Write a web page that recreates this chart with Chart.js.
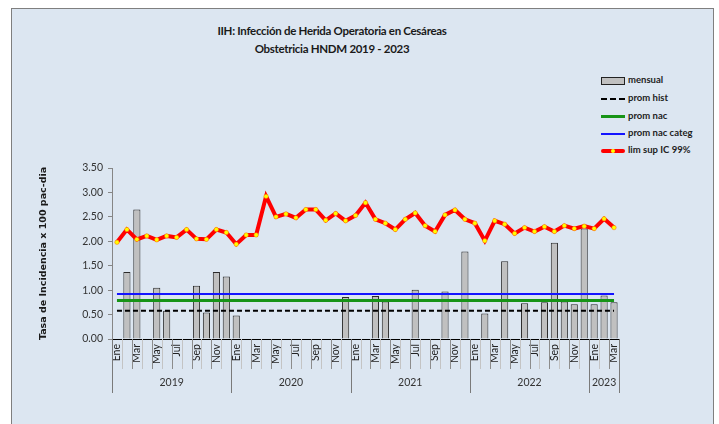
<!DOCTYPE html>
<html>
<head>
<meta charset="utf-8">
<script src="https://cdn.jsdelivr.net/npm/chart.js@4.4.1/dist/chart.umd.min.js"></script>
<style>
  html, body { margin: 0; padding: 0; background: #ffffff; }
  #wrap { position: relative; width: 719px; height: 424px; overflow: hidden; }
  #frame { position: absolute; left: 11px; top: 8px; width: 701px; height: 430px; background: #dce6f1; border: 1px solid #7f7f7f; }
  #chart { position: absolute; left: 0; top: 0; }
  .title { position: absolute; left: 0; width: 664px; text-align: center; font-family: Lato, "DejaVu Sans Condensed", sans-serif; font-weight: bold; font-size: 11.5px; letter-spacing: -0.3px; color: #1a1a1a; }
  .leg { position: absolute; left: 601px; height: 12px; font-family: Lato, "DejaVu Sans Condensed", sans-serif; font-weight: bold; font-size: 9.5px; color: #222; }
  .leg .sym { position: absolute; left: 0; top: 0; width: 24px; height: 12px; }
  .leg .txt { position: absolute; left: 27px; top: -1px; white-space: nowrap; }
</style>
</head>
<body>
<div id="wrap">
  <div id="frame"></div>
  <div class="title" style="top:24px">IIH: Infección de Herida Operatoria en Cesáreas</div>
  <div class="title" style="top:42px">Obstetricia HNDM 2019 - 2023</div>
  <div id="legend"></div>
  <canvas id="chart" width="719" height="424"></canvas>
</div>
<script>
// datos
var meses = ["Ene", "Feb", "Mar", "Abr", "May", "Jun", "Jul", "Ago", "Sep", "Oct", "Nov", "Dic"];
var anios = ["2019", "2020", "2021", "2022", "2023"];
var mesesPorAnio = [12, 12, 12, 12, 3];

var mensual = [
	null, 1.37, 2.65, null, 1.05, 0.58, null, null, 1.09, 0.54, 1.37, 1.28,
	0.48, null, null, null, null, null, null, null, null, null, null, 0.86,
	null, null, 0.88, 0.77, null, null, 1.01, null, null, 0.97, null, 1.79,
	null, 0.52, null, 1.59, null, 0.73, null, 0.75, 1.97, 0.77, 0.71, 2.26,
	0.71, 0.89, 0.75
];
var limSup = [
	1.98, 2.24, 2.04, 2.11, 2.03, 2.11, 2.08, 2.24, 2.05, 2.04, 2.24, 2.18,
	1.94, 2.13, 2.13, 2.92, 2.50, 2.56, 2.48, 2.65, 2.65, 2.43, 2.57, 2.42,
	2.53, 2.79, 2.45, 2.37, 2.24, 2.45, 2.58, 2.32, 2.20, 2.54, 2.64, 2.45,
	2.37, 2.01, 2.42, 2.35, 2.16, 2.28, 2.20, 2.30, 2.20, 2.32, 2.26, 2.31,
	2.26, 2.46, 2.28
];
var promHist = 0.58;
var promNac = 0.79;
var promNacCateg = 0.92;
var yTicks = [0, 0.5, 1, 1.5, 2, 2.5, 3, 3.5];

// etiquetas de categoria
var labels = [];
for (var a = 0; a < anios.length; a++) {
	for (var m = 0; m < mesesPorAnio[a]; m++) {
		labels.push(meses[m] + " " + anios[a]);
	}
}
function constante(v) {
	return labels.map(function () { return v; });
}

var fontNarrow = 'Lato, "DejaVu Sans Condensed", sans-serif';

// legend (html)
var legendItems = [
	{ text: "mensual", top: 75, sym: '<div style="position:absolute;left:0;top:2px;width:22px;height:6px;background:#c0c0c0;border:1px solid #222"></div>' },
	{ text: "prom hist", top: 93, sym: '<div style="position:absolute;left:0;top:5px;width:24px;border-top:2px dashed #000"></div>' },
	{ text: "prom nac", top: 111, sym: '<div style="position:absolute;left:0;top:4px;width:24px;height:3px;background:#179417"></div>' },
	{ text: "prom nac categ", top: 128, sym: '<div style="position:absolute;left:0;top:5px;width:24px;height:2px;background:#1414ff"></div>' },
	{ text: "lim sup IC 99%", top: 145, sym: '<div style="position:absolute;left:0;top:4px;width:24px;height:4px;background:#ff0000;border-radius:2px"></div><div style="position:absolute;left:10px;top:4px;width:4px;height:4px;background:#ffff00;border-radius:2px"></div>' }
];
var legendHtml = "";
for (var i = 0; i < legendItems.length; i++) {
	legendHtml += '<div class="leg" style="top:' + legendItems[i].top + 'px"><div class="sym">' + legendItems[i].sym + '</div><div class="txt">' + legendItems[i].text + '</div></div>';
}
document.getElementById("legend").innerHTML = legendHtml;

// separadores y etiquetas de anio debajo del eje x
var yearAxisPlugin = {
	id: "yearAxis",
	afterDraw: function (chart) {
		var ctx = chart.ctx;
		var x = chart.scales.x;
		var bottom = chart.chartArea.bottom;
		var slot = x.getPixelForValue(1) - x.getPixelForValue(0);
		var yearStarts = [0];
		for (var a = 0; a < mesesPorAnio.length; a++) {
			yearStarts.push(yearStarts[a] + mesesPorAnio[a]);
		}
		ctx.save();
		// month separators
		ctx.lineWidth = 1;
		for (var i = 0; i <= labels.length; i++) {
			var px = Math.round(x.getPixelForValue(Math.min(i, labels.length - 1)) + (i < labels.length ? -slot / 2 : slot / 2)) + 0.5;
			var isYear = yearStarts.indexOf(i) > -1;
			ctx.strokeStyle = isYear ? "#7a7a7a" : (i % 2 === 0 ? "#8c8c8c" : "#c4c4c4");
			ctx.beginPath();
			ctx.moveTo(px, bottom);
			ctx.lineTo(px, bottom + (isYear ? 54 : 30));
			ctx.stroke();
		}
		// year labels
		ctx.fillStyle = "#333";
		ctx.font = "10.5px " + fontNarrow;
		ctx.textAlign = "center";
		ctx.textBaseline = "middle";
		for (var a = 0; a < anios.length; a++) {
			var x0 = x.getPixelForValue(yearStarts[a]) - slot / 2;
			var x1 = x.getPixelForValue(yearStarts[a + 1] - 1) + slot / 2;
			ctx.fillText(anios[a], (x0 + x1) / 2, bottom + 44);
		}
		ctx.restore();
	}
};

var chart = new Chart(document.getElementById("chart"), {
	type: "bar",
	data: {
		labels: labels,
		datasets: [
			{
				type: "line",
				label: "lim sup IC 99%",
				data: limSup,
				borderColor: "#ff0000",
				borderWidth: 4,
				tension: 0,
				pointRadius: 2.2,
				pointBorderWidth: 0.5,
				pointBorderColor: "#ff6a00",
				pointBackgroundColor: "#ffff00",
				order: 1
			},
			{
				type: "line",
				label: "prom nac categ",
				data: constante(promNacCateg),
				borderColor: "#1414ff",
				borderWidth: 2,
				pointRadius: 0,
				order: 2
			},
			{
				type: "line",
				label: "prom nac",
				data: constante(promNac),
				borderColor: "#179417",
				borderWidth: 3,
				pointRadius: 0,
				order: 3
			},
			{
				type: "line",
				label: "prom hist",
				data: constante(promHist),
				borderColor: "#000000",
				borderWidth: 2,
				borderDash: [5, 3],
				pointRadius: 0,
				order: 4
			},
			{
				label: "mensual",
				data: mensual,
				backgroundColor: "#c0c0c0",
				borderColor: "#2a2a2a",
				borderWidth: 1,
				barPercentage: 0.72,
				categoryPercentage: 1,
				order: 5
			}
		]
	},
	options: {
		responsive: false,
		animation: false,
		devicePixelRatio: 1,
		layout: {
			padding: { left: 34, right: 100, top: 168, bottom: 25 }
		},
		plugins: {
			legend: { display: false },
			tooltip: { enabled: false }
		},
		scales: {
			x: {
				offset: true,
				grid: { display: false, drawTicks: false },
				border: { display: true, color: "#000", width: 1 },
				ticks: {
					autoSkip: false,
					minRotation: 90,
					maxRotation: 90,
					padding: 5,
					color: "#222",
					font: { family: fontNarrow, size: 10.5 },
					callback: function (val, idx) {
						return idx % 2 === 0 ? meses[idx % 12] : "";
					}
				},
				afterFit: function (scale) { scale.height = 60; }
			},
			y: {
				min: 0,
				max: 3.5,
				afterBuildTicks: function (scale) {
					scale.ticks = yTicks.map(function (v) { return { value: v }; });
				},
				grid: { drawOnChartArea: false, drawTicks: true, tickLength: 4, color: "#868686" },
				border: { display: true, color: "#868686", width: 1 },
				ticks: {
					padding: 5,
					color: "#333",
					font: { family: fontNarrow, size: 10.5 },
					callback: function (val) { return Number(val).toFixed(2); }
				},
				title: {
					display: true,
					text: "Tasa de Incidencia x 100 pac-dia",
					color: "#1a1a1a",
					font: { family: "DejaVu Sans", size: 9.5, weight: "bold" }
				},
				afterFit: function (scale) { scale.width = 78; }
			}
		}
	},
	plugins: [yearAxisPlugin]
});
</script>
</body>
</html>
